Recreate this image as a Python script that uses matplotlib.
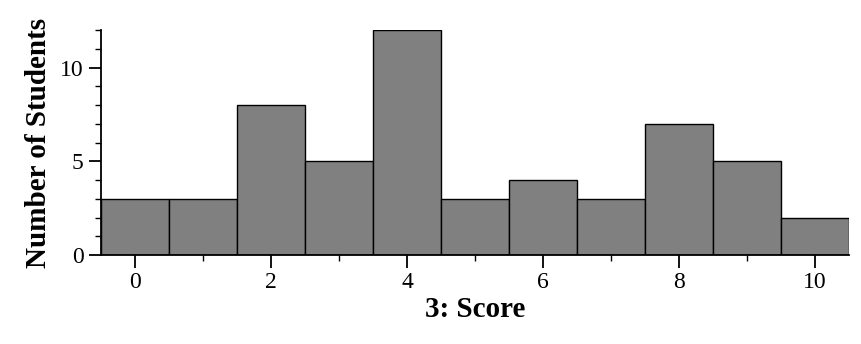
import matplotlib
matplotlib.use("Agg")
import matplotlib.pyplot as plt
from matplotlib.ticker import MultipleLocator

scores = [0, 1, 2, 3, 4, 5, 6, 7, 8, 9, 10]
counts = [3, 3, 8, 5, 12, 3, 4, 3, 7, 5, 2]

plt.rcParams['font.family'] = ['Liberation Serif', 'DejaVu Serif']

fig = plt.figure(figsize=(8.61, 3.44), dpi=100)
ax = fig.add_axes([101/861, 1-255/344, (849-101)/861, (255-30)/344])
ax.bar(scores, counts, width=1.0, color='#808080', edgecolor='black', linewidth=1.0)
ax.set_xlim(-0.5, 10.5)
ax.set_ylim(0, 12)
for s in ['top', 'right']:
    ax.spines[s].set_visible(False)
for s in ['left', 'bottom']:
    ax.spines[s].set_linewidth(1.3)
ax.xaxis.set_major_locator(MultipleLocator(2))
ax.xaxis.set_minor_locator(MultipleLocator(1))
ax.yaxis.set_major_locator(MultipleLocator(5))
ax.yaxis.set_minor_locator(MultipleLocator(1))
ax.tick_params(which='major', length=9, width=1.3, labelsize=17, direction='out')
ax.tick_params(which='minor', length=4, width=1.0, direction='out')
ax.set_xlabel('3: Score', fontsize=21, fontweight='bold', labelpad=2)
ax.set_ylabel('Number of Students', fontsize=21, fontweight='bold', labelpad=6)
fig.savefig('out.png', dpi=100)
